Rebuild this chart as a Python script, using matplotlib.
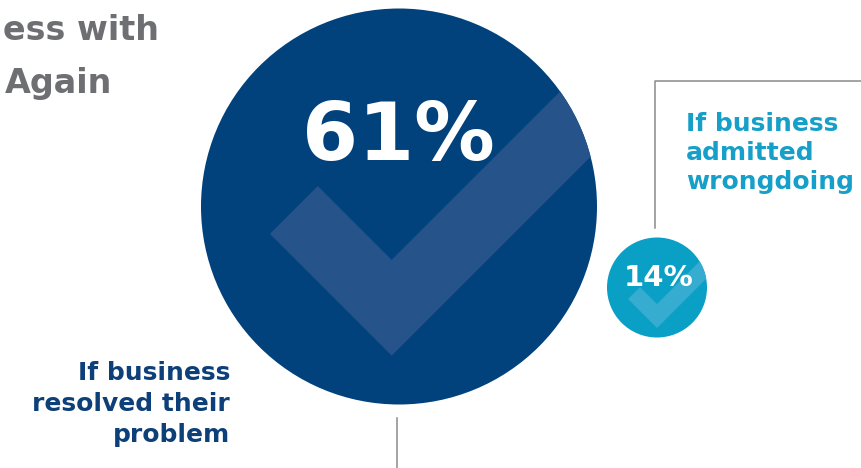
import numpy as np
import matplotlib.pyplot as plt
from matplotlib.patches import Circle, Polygon

# datos del gráfico
labels = ['If business\nresolved their\nproblem', 'If business\nadmitted\nwrongdoing']
values = [61, 14]
title_lines = ['ess with', 'Again']

# colores
navy = '#02427c'
navy_check = '#25538a'
cyan = '#0a9fc5'
cyan_check = '#35acd0'
navy_text = '#0d4079'
cyan_text = '#169fc8'
gray_text = '#6e6f73'
line_gray = '#8a8a8a'

FONT = 'DejaVu Sans'

W, H = 861, 468
fig = plt.figure(figsize=(W / 100, H / 100), dpi=100)
ax = fig.add_axes([0, 0, 1, 1])
ax.set_xlim(0, W)
ax.set_ylim(H, 0)
ax.set_aspect('equal')
ax.axis('off')


def check_circle(cx, cy, r, color, check_color, dx, a, b, s):
    # círculo con una palomita (check) recortada por el borde
    circ = Circle((cx, cy), r, facecolor=color, edgecolor='none', zorder=2)
    ax.add_patch(circ)
    v1 = np.array([cx + dx * r, cy + a * r])
    v2 = np.array([cx + dx * r, cy + b * r])
    t = s - (b - a) * r / 2
    l1 = v2 + s * np.array([-1, -1])
    l2 = v1 + t * np.array([-1, -1])
    r1 = v1 + 3 * r * np.array([1, -1])
    r2 = v2 + 3 * r * np.array([1, -1])
    poly = Polygon([l1, l2, v1, r1, r2, v2], closed=True,
                   facecolor=check_color, edgecolor='none', zorder=3)
    ax.add_patch(poly)
    poly.set_clip_path(circ)


# círculo grande (61%) y pequeño (14%)
check_circle(399, 206.5, 198, navy, navy_check, -0.037, 0.27, 0.753, 121.7)
check_circle(657, 287.5, 50, cyan, cyan_check, 0.0, 0.33, 0.81, 29)

ax.text(398, 160, f'{values[0]}%', color='white', fontsize=58, fontweight='bold',
        family=FONT, ha='center', va='baseline', zorder=5)
ax.text(659, 286, f'{values[1]}%', color='white', fontsize=21, fontweight='bold',
        family=FONT, ha='center', va='baseline', zorder=5)

# líneas guía
ax.plot([655, 655, W], [228, 81, 81], color=line_gray, lw=1.1, zorder=1)
ax.plot([397, 397], [418, H], color=line_gray, lw=1.1, zorder=1)

# etiquetas
for i, line in enumerate(labels[1].split('\n')):
    ax.text(686, 131 + i * 29, line, color=cyan_text, fontsize=18,
            fontweight='bold', family=FONT, ha='left', va='baseline')

for i, line in enumerate(labels[0].split('\n')):
    ax.text(230, 380 + i * 31, line, color=navy_text, fontsize=18,
            fontweight='bold', family=FONT, ha='right', va='baseline')

# título (recortado)
ax.text(3, 40, title_lines[0], color=gray_text, fontsize=24, fontweight='bold',
        family=FONT, ha='left', va='baseline')
ax.text(5, 93, title_lines[1], color=gray_text, fontsize=24, fontweight='bold',
        family=FONT, ha='left', va='baseline')

fig.savefig('out.png', dpi=100)
